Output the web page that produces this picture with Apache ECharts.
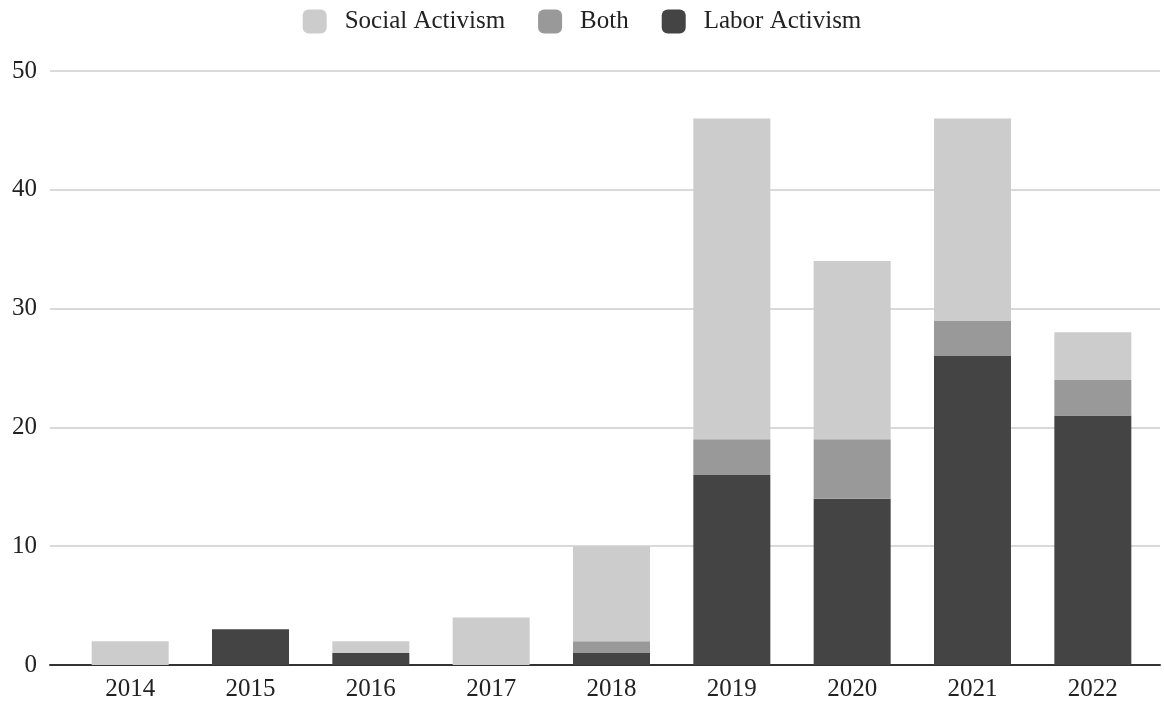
<!DOCTYPE html>
<html>
<head>
<meta charset="utf-8">
<style>
  html, body { margin: 0; padding: 0; background: #fff; }
  #chart { width: 1164px; height: 706px; }
</style>
<script src="https://cdn.jsdelivr.net/npm/echarts@6/dist/echarts.min.js"></script>
</head>
<body>
<div id="chart"></div>
<script>
// Activism events per year, split by type
const years = ['2014', '2015', '2016', '2017', '2018', '2019', '2020', '2021', '2022'];
const laborActivism = [0, 3, 1, 0, 1, 16, 14, 26, 21];
const both = [0, 0, 0, 0, 1, 3, 5, 3, 3];
const socialActivism = [2, 0, 1, 4, 8, 27, 15, 17, 4];
const legendOrder = ['Social Activism', 'Both', 'Labor Activism'];

const FONT = '"Liberation Serif", "Times New Roman", serif';
const COLORS = { social: '#cccccc', both: '#999999', labor: '#444444' };

const chart = echarts.init(document.getElementById('chart'), null, { renderer: 'canvas' });

const yCommon = { type: 'value', min: 0, max: 50, interval: 10 };

chart.setOption({
  animation: false,
  backgroundColor: '#ffffff',
  legend: {
    data: legendOrder,
    top: 4,
    left: 'center',
    icon: 'roundRect',
    itemWidth: 24,
    itemHeight: 24,
    itemGap: 33,
    textStyle: { fontFamily: FONT, fontSize: 25, color: '#222', padding: [0, 0, 0, 13] }
  },
  grid: [
    // background grid: gridlines, y labels and baseline
    { left: 50, right: 4, top: 71, bottom: 41 },
    // bars
    { left: 70, right: 11, top: 71, bottom: 41 }
  ],
  xAxis: [
    {
      gridIndex: 0, type: 'value', min: 0, max: 1,
      axisLine: { show: true, onZero: false, lineStyle: { color: '#333', width: 2 } },
      axisTick: { show: false }, axisLabel: { show: false }, splitLine: { show: false }
    },
    {
      gridIndex: 1, type: 'category', data: years,
      axisLine: { show: false }, axisTick: { show: false },
      axisLabel: { fontFamily: FONT, fontSize: 25, color: '#222', margin: 12 }
    }
  ],
  yAxis: [
    Object.assign({
      gridIndex: 0,
      axisLine: { show: false }, axisTick: { show: false },
      axisLabel: { fontFamily: FONT, fontSize: 25, color: '#222', margin: 13 },
      splitLine: { lineStyle: { color: '#cccccc', width: 1.5 } }
    }, yCommon),
    Object.assign({
      gridIndex: 1,
      axisLine: { show: false }, axisTick: { show: false },
      axisLabel: { show: false }, splitLine: { show: false }
    }, yCommon)
  ],
  series: [
    {
      name: 'Labor Activism', type: 'bar', stack: 'total', data: laborActivism,
      xAxisIndex: 1, yAxisIndex: 1, barWidth: 77,
      itemStyle: { color: COLORS.labor }, z: 3
    },
    {
      name: 'Both', type: 'bar', stack: 'total', data: both,
      xAxisIndex: 1, yAxisIndex: 1, barWidth: 77,
      itemStyle: { color: COLORS.both }, z: 3
    },
    {
      name: 'Social Activism', type: 'bar', stack: 'total', data: socialActivism,
      xAxisIndex: 1, yAxisIndex: 1, barWidth: 77,
      itemStyle: { color: COLORS.social }, z: 3
    }
  ]
});
</script>
</body>
</html>
